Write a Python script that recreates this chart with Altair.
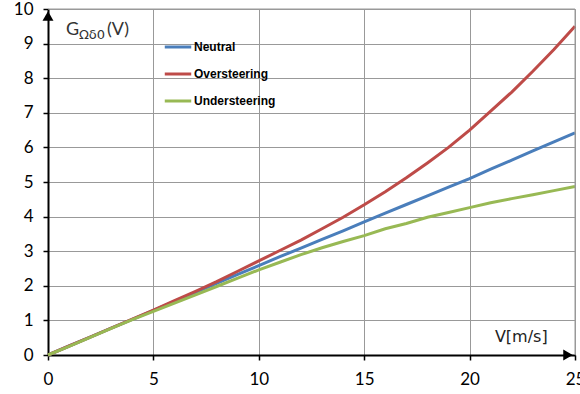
import altair as alt
import pandas as pd

speed = list(range(0, 26))
neutral = [0, 0.26, 0.52, 0.78, 1.03, 1.29, 1.55, 1.81, 2.07, 2.33, 2.58, 2.84, 3.09, 3.34,
           3.59, 3.85, 4.10, 4.35, 4.60, 4.85, 5.10, 5.37, 5.63, 5.90, 6.16, 6.42]
over = [0, 0.26, 0.52, 0.78, 1.04, 1.30, 1.57, 1.84, 2.12, 2.42, 2.72, 3.02, 3.32, 3.65,
        3.98, 4.34, 4.72, 5.12, 5.55, 6.00, 6.50, 7.05, 7.60, 8.20, 8.83, 9.50]
under = [0, 0.25, 0.51, 0.77, 1.02, 1.26, 1.50, 1.74, 1.98, 2.22, 2.46, 2.68, 2.90, 3.10,
         3.28, 3.45, 3.65, 3.80, 3.98, 4.12, 4.26, 4.40, 4.52, 4.63, 4.75, 4.87]
series = ["Neutral", "Oversteering", "Understeering"]
colors = ["#4a7ebb", "#be4b48", "#98b954"]
x_ticks = [0, 5, 10, 15, 20, 25]
y_ticks = list(range(0, 11))

rows = []
for name, vals in zip(series, [neutral, over, under]):
    for v, g in zip(speed, vals):
        rows.append({"V": v, "G": g, "series": name})
df = pd.DataFrame(rows)

xs = alt.Scale(domain=[0, 25], nice=False)
ys = alt.Scale(domain=[0, 10], nice=False)
FONT = "Lato"

x_axis = alt.Axis(
    values=x_ticks, title=None, grid=True, gridColor="#999999",
    gridWidth=1, domainColor="black", domainWidth=2, tickColor="black",
    tickSize=5, tickWidth=1.5, labelFont=FONT, labelFontSize=17, labelColor="black",
    labelPadding=11, labelFlush=False, labelOverlap=False)
y_axis = alt.Axis(
    values=y_ticks, title=None, grid=True, gridColor="#999999",
    gridWidth=1, domainColor="black", domainWidth=2, tickColor="black",
    tickSize=5, tickWidth=1.5, labelFont=FONT, labelFontSize=17, labelColor="black",
    labelPadding=10, labelFlush=False, labelOverlap=False)


def X():
    return alt.X("V:Q", scale=xs, axis=None)


def Y():
    return alt.Y("G:Q", scale=ys, axis=None)


lines = alt.Chart(df).mark_line(strokeWidth=3).encode(
    x=alt.X("V:Q", scale=xs, axis=x_axis),
    y=alt.Y("G:Q", scale=ys, axis=y_axis),
    color=alt.Color("series:N", scale=alt.Scale(domain=series, range=colors),
                    legend=alt.Legend(title=None, orient="none", legendX=115, legendY=23,
                                      symbolType="stroke", symbolSize=700,
                                      symbolStrokeWidth=3, labelFont="Liberation Sans",
                                      labelFontSize=12, labelFontWeight="bold",
                                      labelColor="black", rowPadding=6,
                                      labelOffset=1)),
)

border = pd.DataFrame({"V": [0, 25, 25], "G": [10, 10, 0]})
frame = alt.Chart(border).mark_line(color="#999999", strokeWidth=1).encode(
    x=X(), y=Y(), order=alt.Order("V:Q"))

g_df = pd.DataFrame({"V": [0.85], "G": [9.38]})

arr_up = alt.Chart(g_df).mark_point(
    shape="triangle-up", filled=True, color="black", size=120, opacity=1,
    yOffset=7).encode(x=alt.XDatum(0, scale=xs, axis=None),
                      y=alt.YDatum(10, scale=ys, axis=None))
arr_right = alt.Chart(g_df).mark_point(
    shape="triangle-right", filled=True, color="black", size=120, opacity=1,
    xOffset=-7).encode(x=alt.XDatum(25, scale=xs, axis=None),
                       y=alt.YDatum(0, scale=ys, axis=None))

lab_df = pd.DataFrame({"V": [21.2], "G": [0.52], "t": ["V[m/s]"]})
vlab = alt.Chart(lab_df).mark_text(align="left", baseline="middle", font="DejaVu Sans",
                                   fontSize=16, color="#222222").encode(
    x=X(), y=Y(), text="t:N")

g1 = alt.Chart(g_df).mark_text(align="left", baseline="middle", font=FONT, fontSize=18,
                               color="#333333", text="G").encode(x=X(), y=Y())
g2 = alt.Chart(g_df).mark_text(align="left", baseline="middle", font="DejaVu Sans",
                               fontSize=13, color="#333333", text="Ωδ0",
                               dx=13, dy=5).encode(x=X(), y=Y())
g3 = alt.Chart(g_df).mark_text(align="left", baseline="middle", font=FONT, fontSize=18,
                               color="#333333", text="(V)", dx=41).encode(x=X(), y=Y())

chart = alt.layer(lines, frame, vlab, g1, g2, g3, arr_up, arr_right).resolve_axis(
    x="independent", y="independent"
).properties(
    width=527, height=346, autosize=alt.AutoSizeParams(type="none"),
    padding={"left": 48, "top": 9, "right": 5, "bottom": 39}
).configure_view(stroke=None).configure(background="white")

chart.save("out.html", embed_options={"renderer": "svg", "actions": False})
